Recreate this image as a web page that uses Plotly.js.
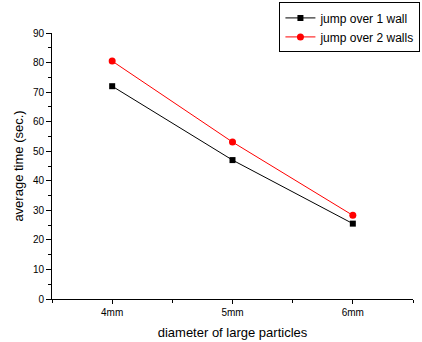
<!DOCTYPE html>
<html><head><meta charset="utf-8">
<script src="https://cdn.plot.ly/plotly-3.0.1.min.js"></script>
<style>html,body{margin:0;padding:0;background:#fff}#chart{width:422px;height:342px}</style>
</head><body><div id="chart"></div>
<script>
const categories = ["4mm", "5mm", "6mm"];
const seriesNames = ["jump over 1 wall", "jump over 2 walls"];
const oneWall = [72, 47, 25.5];
const twoWalls = [80.5, 53.1, 28.3];
const yTicks = [0, 10, 20, 30, 40, 50, 60, 70, 80, 90];

const xIdx = categories.map((c, i) => i);
const font = {family: "Liberation Sans, Arial, sans-serif", color: "#000"};

const traces = [
  {x: xIdx, y: oneWall, name: seriesNames[0], type: "scatter", mode: "lines+markers",
   line: {color: "#000", width: 1}, marker: {symbol: "square", size: 6, color: "#000"}},
  {x: xIdx, y: twoWalls, name: seriesNames[1], type: "scatter", mode: "lines+markers",
   line: {color: "#ff0000", width: 1}, marker: {symbol: "circle", size: 7, color: "#ff0000"}}
];

const layout = {
  width: 422, height: 342,
  margin: {l: 52, r: 9, t: 33, b: 43, autoexpand: false},
  paper_bgcolor: "#fff", plot_bgcolor: "#fff",
  font: Object.assign({size: 10}, font),
  showlegend: true,
  legend: {x: 0.63, y: 1.115, xanchor: "left", yanchor: "top",
    bordercolor: "#000", borderwidth: 1, bgcolor: "#fff",
    font: Object.assign({size: 12}, font), tracegroupgap: 0, itemwidth: 30},
  xaxis: {
    range: [-0.5, 2.5], tickmode: "array", tickvals: xIdx, ticktext: categories,
    showgrid: false, zeroline: false, showline: true, linecolor: "#000", linewidth: 1,
    ticks: "outside", ticklen: 4, tickcolor: "#000", tickfont: Object.assign({size: 10}, font),
    minor: {tick0: 0.5, dtick: 1, ticks: "outside", ticklen: 3, tickcolor: "#000", showgrid: false},
    title: {text: "diameter of large particles", font: Object.assign({size: 13}, font), standoff: 10}
  },
  yaxis: {
    range: [0, 90], tickmode: "array", tickvals: yTicks,
    showgrid: false, zeroline: false, showline: true, linecolor: "#000", linewidth: 1,
    ticks: "outside", ticklen: 5, tickcolor: "#000", tickfont: Object.assign({size: 10}, font),
    minor: {dtick: 5, tick0: 5, ticks: "outside", ticklen: 3, tickcolor: "#000", showgrid: false},
    title: {text: "average time (sec.)", font: Object.assign({size: 13}, font), standoff: 6}
  }
};

Plotly.newPlot("chart", traces, layout, {displayModeBar: false, staticPlot: true});
</script></body></html>
